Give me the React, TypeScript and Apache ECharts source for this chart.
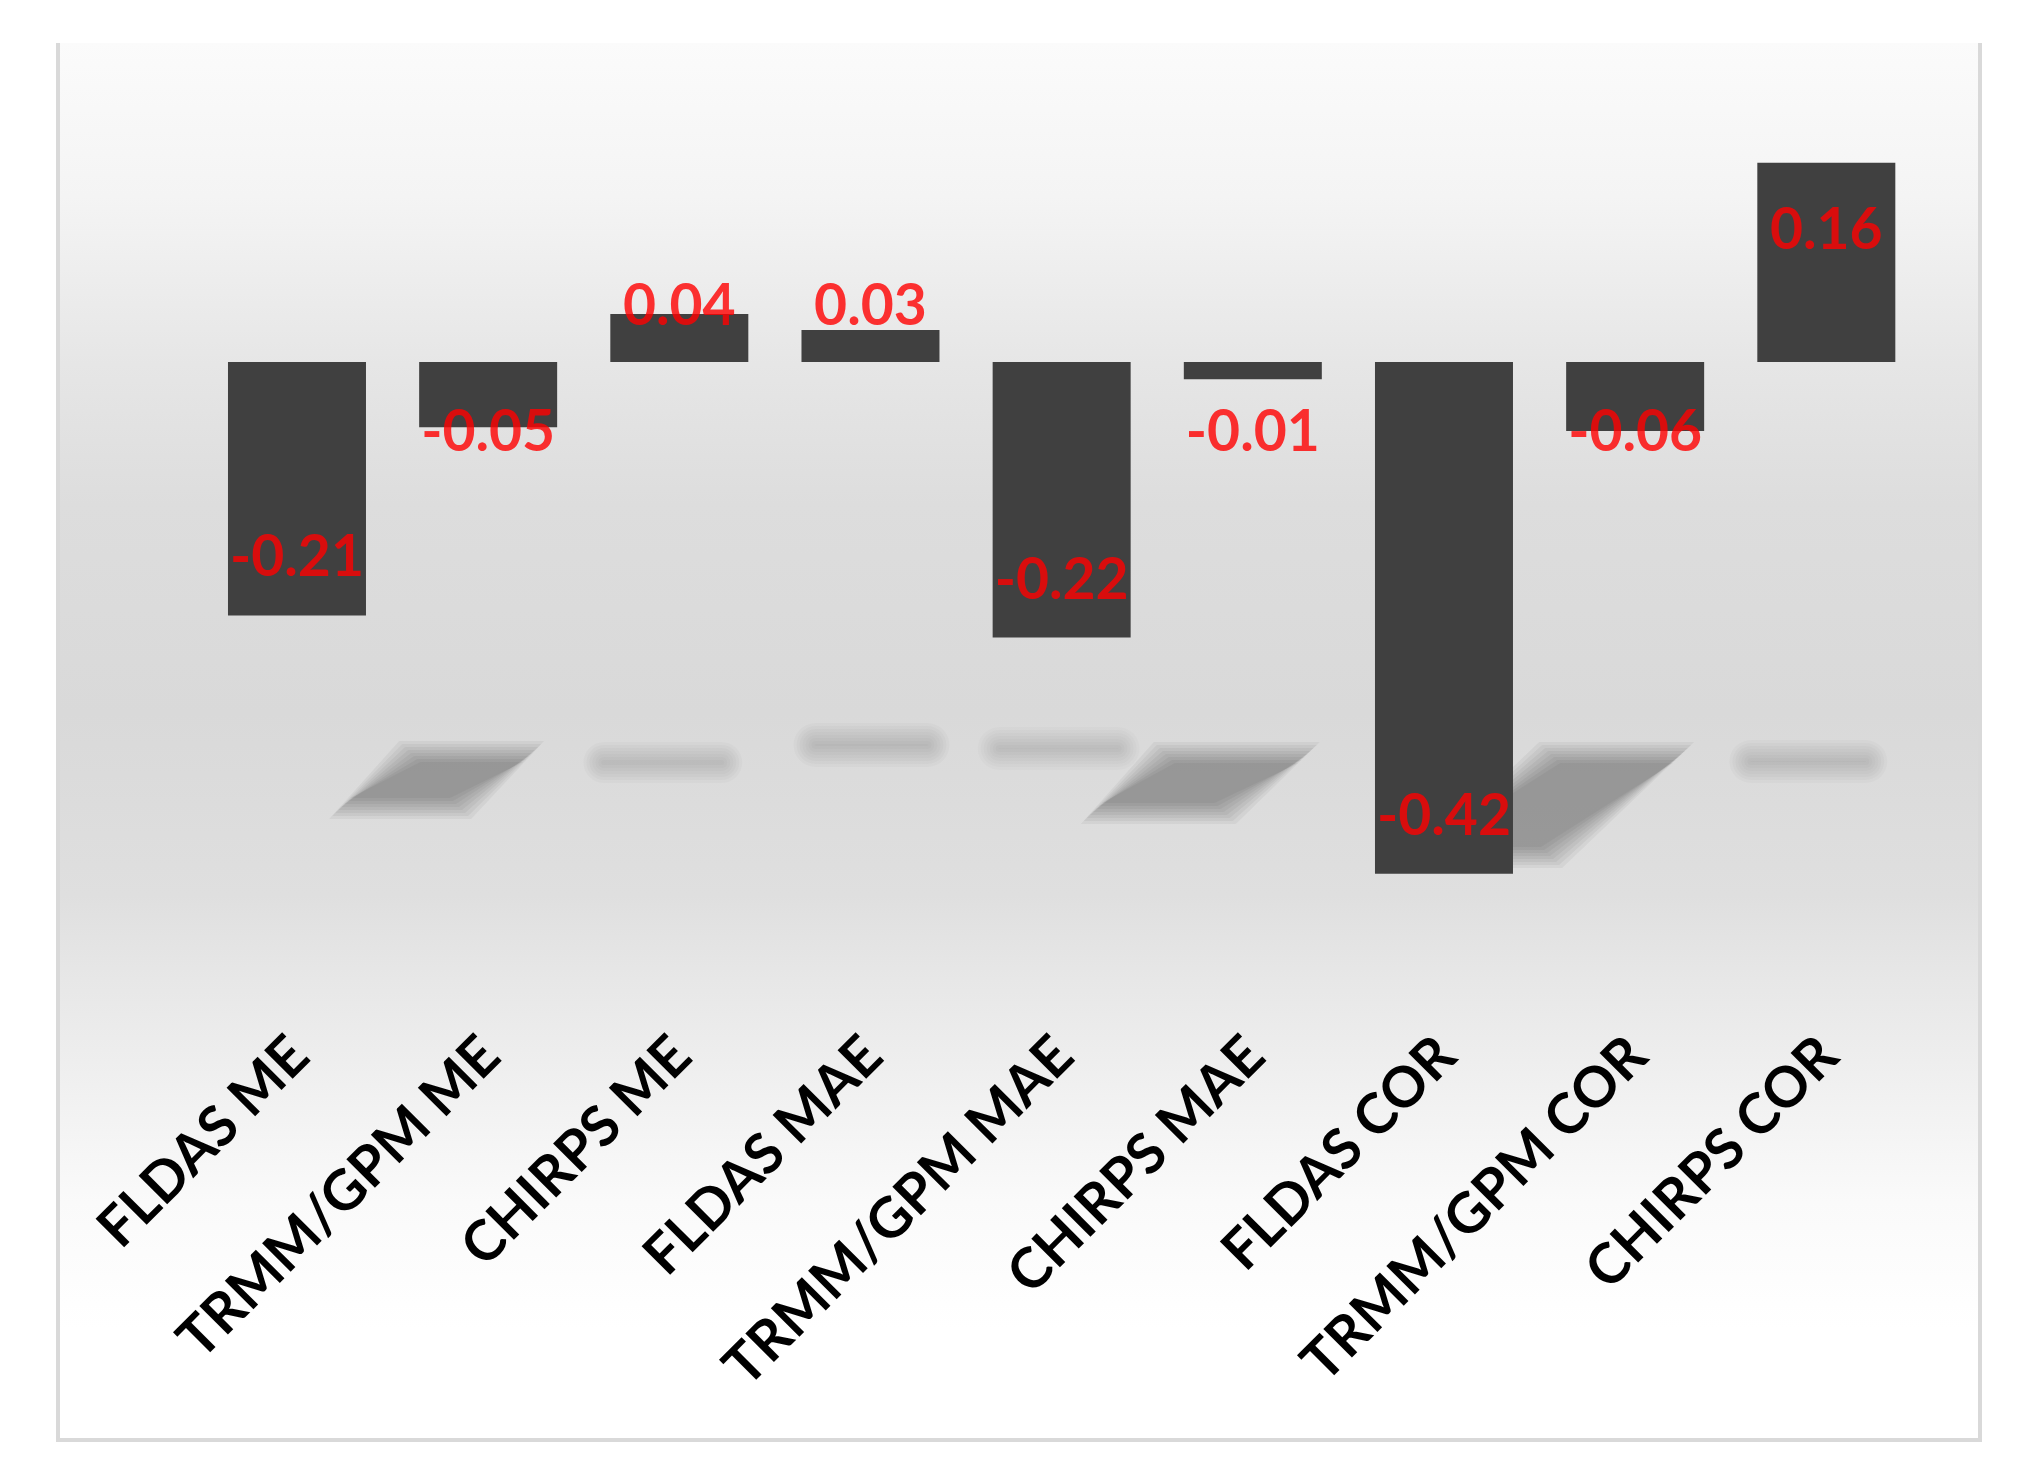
import React, { useEffect, useRef } from "react";
import * as echarts from "echarts";

const categories = [
  "FLDAS ME",
  "TRMM/GPM ME",
  "CHIRPS ME",
  "FLDAS MAE",
  "TRMM/GPM MAE",
  "CHIRPS MAE",
  "FLDAS COR",
  "TRMM/GPM COR",
  "CHIRPS COR",
];
const values = [-0.206, -0.053, 0.039, 0.026, -0.224, -0.014, -0.416, -0.056, 0.162];

const Y_MIN = -0.5;
const Y_MAX = 0.2;
const GRID_TOP = 116;
const GRID_BOTTOM_PX = 977;
const PX_PER_UNIT = (GRID_BOTTOM_PX - GRID_TOP) / (Y_MAX - Y_MIN);

// decorative soft reflections seen under some bars (offsets relative to category centre / zero line)
const SHADOWS: Record<number, any> = {
  1: { kind: "slant", pts: [[-78, 390], [45, 390], [-28, 446], [-148, 446]], a: 0.21 },
  2: { kind: "flat", box: [-85, 52, 391, 410], a: 0.1 },
  3: { kind: "flat", box: [-66, 68, 372, 394], a: 0.09 },
  4: { kind: "flat", box: [-73, 67, 376, 397], a: 0.07 },
  5: { kind: "slant", pts: [[-88, 391], [56, 391], [-28, 451], [-161, 451]], a: 0.21 },
  7: { kind: "slant", pts: [[-85, 391], [48, 391], [-84, 495], [-217, 495]], a: 0.21 },
  8: { kind: "flat", box: [-86, 50, 389, 410], a: 0.1 },
};

export default function App() {
  const ref = useRef<HTMLDivElement>(null);
  useEffect(() => {
    if (!ref.current) return;
    const chart = echarts.init(ref.current, undefined, { renderer: "svg" });
    const font = "Lato, 'Open Sans', sans-serif";
    const inNeg = 61 / PX_PER_UNIT;
    const inPos = 64 / PX_PER_UNIT;
    const minNeg = 66.5 / PX_PER_UNIT;
    const minPos = 59 / PX_PER_UNIT;
    const labelData = values.map((v, i) => [
      i,
      v < 0 ? Math.min(v + inNeg, -minNeg) : Math.max(v - inPos, minPos),
      v,
    ]);
    const layers = [-10, -7, -4, -1, 2, 5, 8, 11];

    const option: any = {
      animation: false,
      backgroundColor: "#ffffff",
      graphic: [
        {
          type: "rect",
          z: -10,
          silent: true,
          shape: { x: 60, y: 43, width: 1918, height: 1397 },
          style: {
            fill: new echarts.graphic.LinearGradient(0, 0, 0, 1, [
              { offset: 0, color: "#fbfbfb" },
              { offset: 0.11, color: "#f4f4f4" },
              { offset: 0.23, color: "#e6e6e6" },
              { offset: 0.33, color: "#dddddd" },
              { offset: 0.48, color: "#d9d9d9" },
              { offset: 0.61, color: "#dfdfdf" },
              { offset: 0.67, color: "#e7e7e7" },
              { offset: 0.83, color: "#fafafa" },
              { offset: 0.92, color: "#ffffff" },
              { offset: 1, color: "#ffffff" },
            ]),
          },
        },
        {
          type: "polyline",
          z: -9,
          silent: true,
          shape: { points: [[58, 43], [58, 1440], [1980, 1440], [1980, 43]] },
          style: { stroke: "#d9d9d9", lineWidth: 4, fill: null },
        },
      ],
      grid: {
        left: 201.4,
        right: 108.1,
        top: GRID_TOP,
        bottom: 1480 - GRID_BOTTOM_PX,
        containLabel: false,
        outerBoundsMode: "none",
      },
      xAxis: {
        type: "category",
        data: categories,
        axisLine: { show: false },
        axisTick: { show: false },
        splitLine: { show: false },
        axisLabel: {
          interval: 0,
          rotate: 45,
          margin: 67,
          fontSize: 56,
          fontWeight: "bold",
          fontFamily: font,
          color: "#000000",
          hideOverlap: false,
        },
      },
      yAxis: {
        type: "value",
        min: Y_MIN,
        max: Y_MAX,
        show: false,
        splitLine: { show: false },
      },
      series: [
        {
          type: "custom",
          z: 1,
          silent: true,
          clip: false,
          data: categories.map((_, i) => [i, 0]),
          encode: { x: 0, y: 1 },
          renderItem: (params: any, api: any) => {
            const idx = api.value(0);
            const spec = SHADOWS[idx];
            if (!spec) return { type: "group", children: [] };
            const [cx, y0] = api.coord([idx, 0]);
            const children: any[] = [];
            const per = spec.a / 5;
            layers.forEach((e) => {
              if (spec.kind === "flat") {
                const [x0, x1, t, b] = spec.box;
                const h = b - t + 2 * e;
                if (h <= 0) return;
                children.push({
                  type: "rect",
                  shape: { x: cx + x0 - e, y: y0 + t - e, width: x1 - x0 + 2 * e, height: h, r: Math.max(0, h / 2) },
                  style: { fill: `rgba(0,0,0,${per})` },
                });
              } else {
                const p = spec.pts;
                const hh = p[3][1] - p[0][1] + 2 * e;
                if (hh <= 0) return;
                children.push({
                  type: "polygon",
                  smooth: 0.15,
                  shape: {
                    points: [
                      [cx + p[0][0] - e, y0 + p[0][1] - e],
                      [cx + p[1][0] + e, y0 + p[1][1] - e],
                      [cx + p[2][0] + e, y0 + p[2][1] + e],
                      [cx + p[3][0] - e, y0 + p[3][1] + e],
                    ],
                  },
                  style: { fill: `rgba(0,0,0,${per})` },
                });
              }
            });
            return { type: "group", children };
          },
        },
        {
          type: "bar",
          z: 2,
          data: values,
          barWidth: 138,
          itemStyle: { color: "#404040" },
          label: { show: false },
        },
        {
          type: "scatter",
          z: 3,
          data: labelData,
          symbolSize: 1,
          itemStyle: { color: "rgba(0,0,0,0)" },
          encode: { x: 0, y: 1 },
          label: {
            show: true,
            position: "inside",
            formatter: (p: any) => Number(p.value[2]).toFixed(2),
            color: "#ff0000",
            fontSize: 57,
            fontWeight: "bold",
            fontFamily: font,
          },
        },
      ],
    };
    chart.setOption(option);
    return () => chart.dispose();
  }, []);
  return (
    <div
      ref={ref}
      style={{ position: "fixed", left: 0, top: 0, width: 2030, height: 1480 }}
    />
  );
}
